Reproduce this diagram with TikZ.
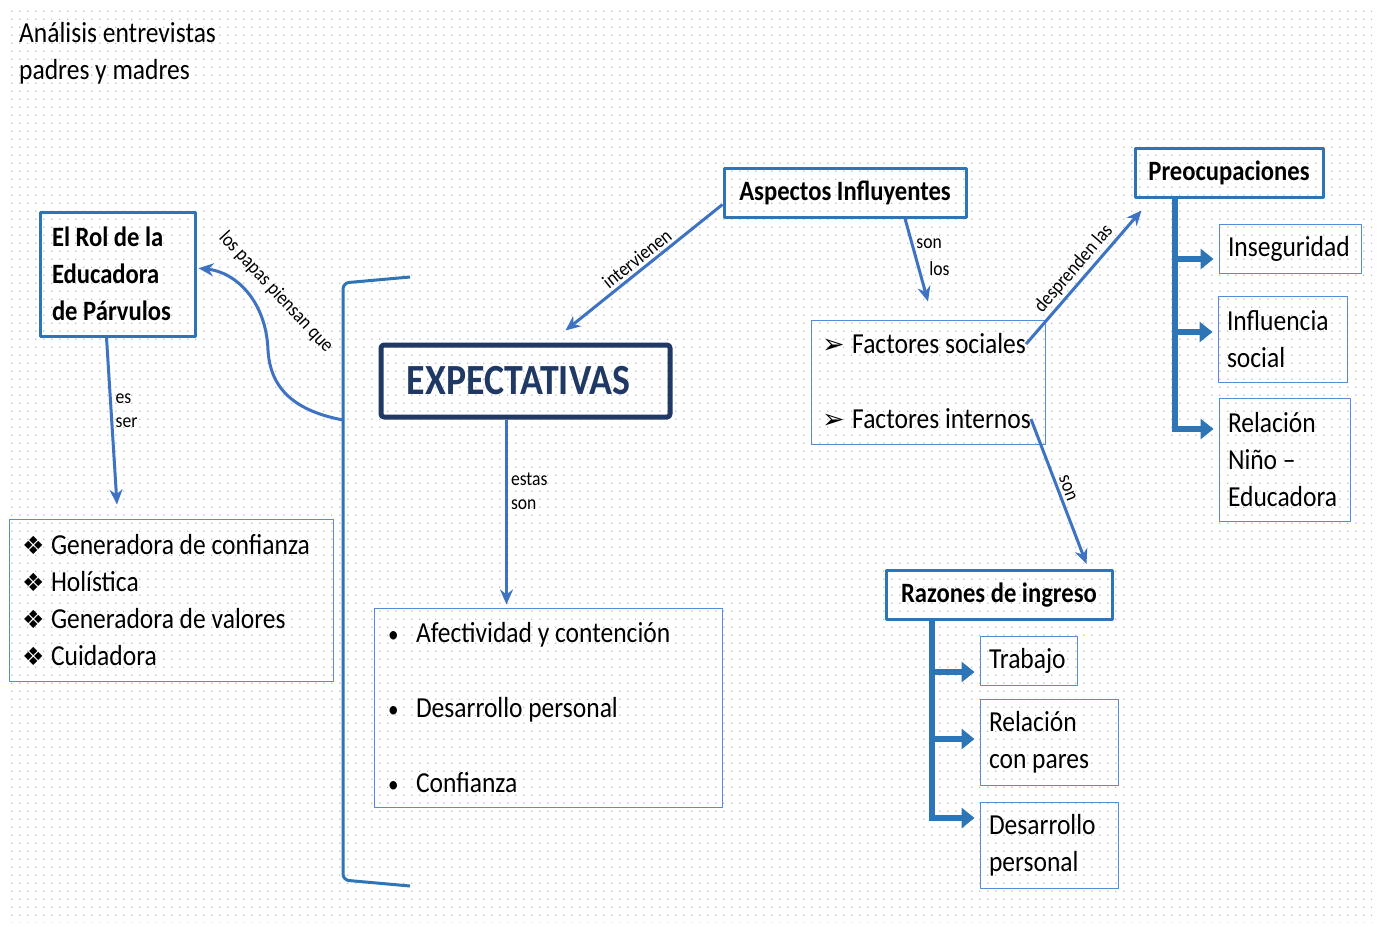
\documentclass[tikz,border=0pt]{standalone}
\usepackage{fontspec}
\setmainfont{Carlito}[FakeStretch=0.88]
\newfontfamily\symfont{DejaVu Sans}
\usetikzlibrary{arrows.meta,patterns.meta}

\definecolor{boxblue}{RGB}{46,117,182}
\definecolor{thinblue}{RGB}{84,141,212}
\definecolor{linkblue}{RGB}{62,115,196}
\definecolor{navy}{RGB}{31,56,100}

\newcommand{\itemsize}{\fontsize{29}{37}\selectfont}
\newcommand{\headsize}{\fontsize{28}{37}\selectfont}
\newcommand{\labsize}{\fontsize{20}{24}\selectfont}
\newcommand{\bigsize}{\fontsize{43}{50}\selectfont}
\newcommand{\diasym}{\makebox[29pt][l]{\symfont\fontsize{25}{25}\selectfont ❖}}
\newcommand{\arrsym}{\makebox[30pt][l]{\symfont\fontsize{27}{27}\selectfont ➢}}
\newcommand{\bulsym}{\makebox[28pt][l]{\fontsize{24}{24}\selectfont •}}

\tikzdeclarepattern{
  name=dotgrid,
  type=uncolored,
  bounding box={(0pt,0pt) and (8.3pt,8.3pt)},
  tile size={(8.3pt,8.3pt)},
  code={\pgfpathcircle{\pgfpoint{4.15pt}{4.15pt}}{0.7pt}\pgfusepath{fill}}
}

\tikzset{
  headbox/.style={draw=boxblue, line width=3pt, font=\bfseries\headsize, inner xsep=10pt, inner ysep=0pt, minimum height=49pt},
  listbox/.style={draw=thinblue, line width=1pt, font=\itemsize, align=flush left, inner xsep=9pt, inner ysep=0pt},
  conn/.style={draw=linkblue, line width=3pt, ->},
  bracket/.style={draw=boxblue, line width=3pt, rounded corners=6pt},
  trunk/.style={draw=boxblue, line width=6pt},
  branch/.style={draw=boxblue, line width=6pt, -{Triangle[length=13pt,width=20pt]}, shorten >=5pt},
  lab/.style={font=\labsize, inner sep=3pt},
}

\begin{document}
\begin{tikzpicture}[x=1pt, y=-1pt, line join=round, >={Stealth[length=15pt,width=13pt]}]
\useasboundingbox (0,0) rectangle (1378,926);
\fill[white] (0,0) rectangle (1378,926);
\fill[pattern=dotgrid, pattern color=black!50] (8,8) rectangle (1372,922);

% title
\node[anchor=north west, align=flush left, font=\itemsize, inner sep=0pt] (title) at (19,22) {Análisis entrevistas\\padres y madres};

% left part
\node[headbox, align=flush left, text width=131pt, inner xsep=12pt, minimum height=124pt] (rol) at (117.5,274) {El Rol de la\\Educadora\\de Párvulos};
\node[listbox, text width=298pt, inner xsep=13pt, minimum height=162pt] (rollist) at (171,600)
  {\diasym Generadora de confianza\\\diasym Holística\\\diasym Generadora de valores\\\diasym Cuidadora};

% centre
\node[draw=navy, line width=5pt, rounded corners=3pt, text=navy, font=\bfseries\bigsize, minimum width=289pt, minimum height=72pt, inner sep=0pt] (expect) at (525.5,381) {\hspace*{-14pt}EXPECTATIVAS};
\node[listbox, text width=320pt, inner xsep=14pt, minimum height=199pt, font=\fontsize{29}{75}\selectfont] (explist) at (548,707.5)
  {\bulsym Afectividad y contención\\\bulsym Desarrollo personal\\\bulsym Confianza};

\draw[bracket] (410,277) coordinate (brtop) -- (343,283) -- (343,880) -- (410,886) coordinate (brbot);
\coordinate (brmid) at (343,420);

% right part
\node[headbox, minimum width=242pt] (aspect) at (845,192.5) {Aspectos Influyentes};
\node[listbox, minimum width=234pt, minimum height=124pt] (factors) at (928,382) {};
\node[anchor=west, inner sep=0pt, font=\itemsize] (fsoc) at (822,344) {\arrsym Factores sociales};
\node[anchor=west, inner sep=0pt, font=\itemsize] (fint) at (822,419) {\arrsym Factores internos};

\node[headbox, minimum width=188pt] (preoc) at (1229,172.5) {Preocupaciones};
\node[listbox, text width=124pt, minimum height=49pt] (inseg) at (1290,248.5) {Inseguridad};
\node[listbox, text width=111pt, minimum height=86pt] (influ) at (1282.5,339) {Influencia\\social};
\node[listbox, text width=113pt, minimum height=123pt] (relni) at (1284.5,459.5) {Relación\\Niño –\\Educadora};

\node[headbox, minimum width=226pt] (razon) at (999,595) {Razones de ingreso};
\node[listbox, text width=79pt, minimum height=49pt] (trab) at (1028.5,660.5) {Trabajo};
\node[listbox, text width=120pt, minimum height=86pt] (relpar) at (1049,742) {Relación\\con pares};
\node[listbox, text width=120pt, minimum height=86pt] (desper) at (1049,845) {Desarrollo\\personal};

% connectors
\draw[conn, shorten >=2pt] (brmid) .. controls (290,410) and (270,385) .. (268,350) .. controls (266,300) and (235,272) .. ([yshift=6pt]rol.east);
\node[lab, rotate=-47] (papas) at (276,292) {los papas piensan que};

\draw[conn] ([xshift=-11pt]rol.south) -- node[lab, pos=.44, right, align=flush left] {es\\ser} ([xshift=-54pt,yshift=14pt]rollist.north);

\coordinate (es) at ([xshift=-19pt]expect.south);
\draw[conn, shorten >=3pt] (es) -- node[lab, pos=.38, right, align=flush left] {estas\\son} (es |- explist.north);

\draw[conn] ([yshift=-12pt]aspect.west) -- node[lab, sloped, above] {intervienen} ([xshift=40pt,yshift=12pt]expect.north);
\draw[conn] ([xshift=60pt]aspect.south) -- node[lab, pos=.3, right] {son} node[lab, pos=.6, right=6pt] {los} ([yshift=18pt]factors.north);
\draw[conn] (fsoc.east) -- node[lab, sloped, above] {desprenden las} ([xshift=8pt,yshift=-12pt]preoc.south west);
\draw[conn] (fint.east) -- node[lab, sloped, above] {son} ([xshift=-27pt,yshift=5pt]razon.north east);

% trees
\coordinate (pt) at ([xshift=-54pt]preoc.south);
\draw[trunk] (pt) -- (pt |- 0,432);
\foreach \y/\b in {259/inseg, 332/influ, 429/relni}
  \draw[branch] (pt |- 0,\y) -- (\b.west |- 0,\y);

\coordinate (rt) at ([xshift=-67pt]razon.south);
\draw[trunk] (rt) -- (rt |- 0,821);
\foreach \y/\b in {672/trab, 739/relpar, 818/desper}
  \draw[branch] (rt |- 0,\y) -- (\b.west |- 0,\y);
\end{tikzpicture}
\end{document}
